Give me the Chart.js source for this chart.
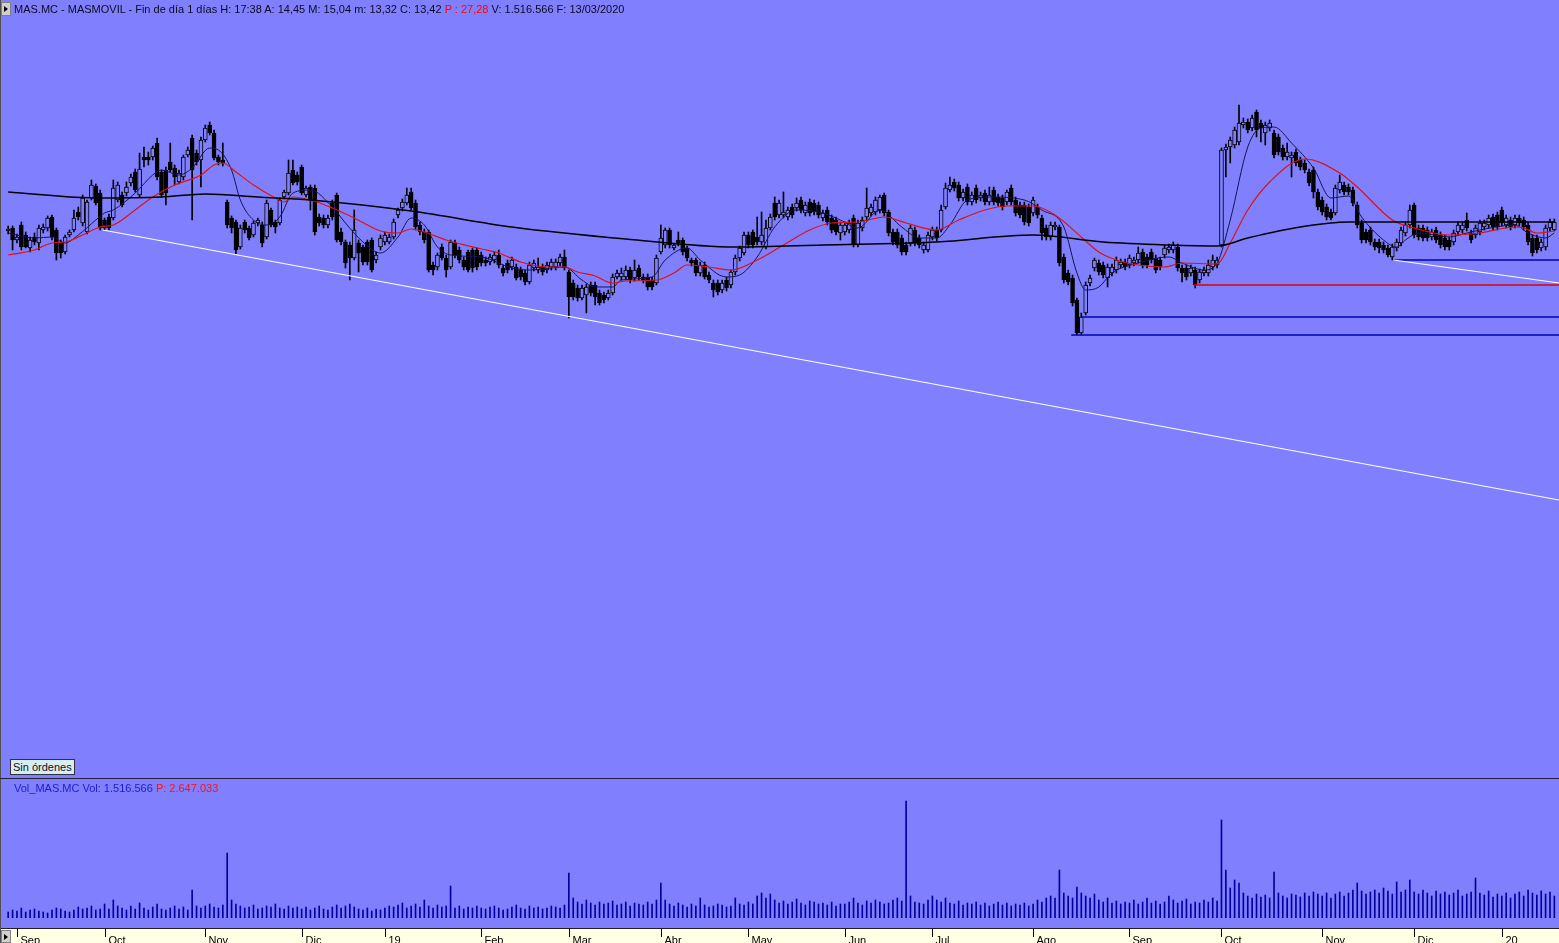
<!DOCTYPE html>
<html><head><meta charset="utf-8">
<script src="https://cdn.jsdelivr.net/npm/chart.js@4.4.1/dist/chart.umd.min.js"></script>
<style>
html,body{margin:0;padding:0;background:#8080FF;width:1559px;height:943px;overflow:hidden;font-family:"Liberation Sans",Arial,sans-serif;}
#wrap{position:relative;width:1559px;height:943px;}
canvas{position:absolute;left:0;}
.t{position:absolute;font-size:11px;white-space:pre;line-height:12px;color:#0a0a20;}
.btn{position:absolute;width:8px;height:12px;background:#d0d0d0;border:1px solid #808080;}
.btn:after{content:"";position:absolute;left:2px;top:3px;border-left:4px solid #000;border-top:3px solid transparent;border-bottom:3px solid transparent;}
</style></head><body><div id="wrap">
<canvas id="main" width="1559" height="761" style="top:18px"></canvas>
<canvas id="vol" width="1559" height="163" style="top:780px"></canvas>
<div style="position:absolute;left:0;top:0;width:1px;height:943px;background:#505050"></div>
<div style="position:absolute;left:0;top:778px;width:1559px;height:1px;background:#20203a"></div>
<div class="btn" style="left:1px;top:2px"></div>
<div class="t" style="left:14px;top:3px">MAS.MC - MASMOVIL - Fin de día 1 días H: 17:38 A: 14,45 M: 15,04 m: 13,32 C: 13,42 <span style="color:#ff0000">P : 27,28</span> V: 1.516.566 F: 13/03/2020</div>
<div class="t" style="left:10px;top:759px;width:61px;height:14px;background:#d8eeee;border:1px solid #303040;line-height:14px;padding-left:2px;color:#10102a">Sin órdenes</div>
<div class="t" style="left:14px;top:782px;color:#1c1cc8">Vol_MAS.MC Vol: 1.516.566 <span style="color:#ff1010">P: 2.647.033</span></div>
<div class="btn" style="left:1px;top:930px;height:11px"></div>
</div>
<script>
// ---- month axis ----
const monthLabels = ['Sep','Oct','Nov','Dic','19','Feb','Mar','Abr','May','Jun','Jul','Ago','Sep','Oct','Nov','Dic','20'];
const monthStart  = [2,22,45,67,86,108,128,149,169,191,211,234,256,277,300,321,341];

// ---- daily candles (EUR) ----
const open = [
20.38,20.44,20.20,20.50,20.30,20.04,20.26,20.14,20.40,20.44,
20.66,20.40,20.16,19.96,20.30,20.40,20.76,20.54,20.36,21.04,
21.28,21.14,20.60,20.66,20.64,21.00,21.10,21.14,21.34,21.56,
21.10,21.86,21.86,21.86,22.14,21.56,21.60,21.76,21.64,21.36,
21.46,21.90,22.24,21.94,21.80,22.20,22.50,22.34,21.86,21.80,
20.96,20.64,20.56,20.06,20.56,20.44,20.30,20.54,20.50,20.26,
20.80,20.56,20.54,21.06,21.14,21.60,21.50,21.66,21.10,21.26,
21.24,20.66,20.64,20.50,20.94,21.10,20.36,20.16,20.10,19.84,
20.14,20.06,20.16,20.20,19.80,20.06,20.16,20.16,20.26,20.70,
20.84,20.94,21.16,20.94,20.50,20.36,20.36,19.70,19.66,20.06,
19.84,19.66,20.14,20.00,19.80,19.96,20.00,20.00,19.90,19.80,
19.76,19.80,19.90,19.64,19.74,19.66,19.66,19.60,19.54,19.36,
19.64,19.60,19.66,19.60,19.66,19.66,19.74,19.86,19.56,19.34,
19.24,19.04,19.10,19.30,19.30,19.14,19.10,19.04,19.14,19.46,
19.46,19.46,19.60,19.44,19.64,19.46,19.46,19.40,19.34,19.96,
20.10,20.40,20.04,20.20,20.20,20.04,19.80,19.80,19.54,19.70,
19.50,19.34,19.34,19.20,19.40,19.30,19.56,19.84,19.94,20.30,
20.36,20.26,20.16,20.06,20.44,20.94,20.70,20.70,20.66,20.86,
20.84,21.00,20.74,20.96,20.94,20.90,20.64,20.80,20.64,20.60,
20.34,20.36,20.40,20.64,20.10,20.44,20.66,20.74,20.76,20.80,
21.10,20.76,20.36,20.36,20.24,20.10,20.14,20.40,20.24,20.00,
20.00,20.26,20.40,20.40,20.86,21.20,21.36,21.30,21.04,21.26,
20.96,21.24,21.04,21.14,20.96,21.20,21.06,21.04,20.96,21.24,
21.00,20.90,20.90,20.86,20.74,20.86,20.64,20.44,20.26,20.46,
20.46,19.86,19.54,19.44,19.00,18.34,18.74,19.34,19.64,19.74,
19.70,19.44,19.54,19.60,19.70,19.76,19.70,19.74,19.80,19.96,
19.86,19.96,19.84,19.80,19.90,20.00,20.00,20.06,19.64,19.64,
19.54,19.60,19.40,19.54,19.54,19.66,19.70,20.10,22.00,22.06,
22.10,22.16,22.50,22.56,22.44,22.76,22.54,22.34,22.44,22.34,
22.26,22.04,21.86,21.84,21.96,21.80,21.74,21.56,21.60,21.16,
21.00,20.86,20.76,20.74,21.20,21.30,21.26,21.20,20.90,20.54,
20.36,20.40,20.16,20.16,20.10,20.04,19.86,20.04,20.14,20.34,
20.50,20.90,20.44,20.44,20.40,20.26,20.40,20.30,20.24,20.20,
20.16,20.36,20.40,20.60,20.34,20.30,20.36,20.46,20.50,20.66,
20.70,20.80,20.50,20.60,20.50,20.64,20.60,20.50,20.24,20.24,
20.04,20.06,20.44,20.40];
const high = [
20.48,20.48,20.32,20.56,20.36,20.26,20.34,20.50,20.52,20.68,
20.70,20.44,20.20,20.30,20.40,20.80,20.86,21.10,21.00,21.40,
21.32,21.20,20.64,20.72,21.40,21.36,21.16,21.36,21.52,21.62,
21.94,22.06,21.96,22.08,22.24,21.60,21.66,22.14,21.70,21.60,
21.90,22.06,22.30,22.00,22.26,22.50,22.56,22.40,21.90,22.14,
21.00,20.68,20.60,20.50,20.60,20.48,20.58,20.64,20.56,21.00,
20.84,20.60,21.04,21.20,21.80,21.80,21.56,21.70,21.28,21.30,
21.30,20.72,20.70,20.70,21.00,21.14,20.44,20.20,20.16,20.80,
20.20,20.10,20.20,20.24,19.96,20.30,20.36,20.32,20.62,20.84,
21.02,21.24,21.24,21.00,20.56,20.42,20.40,19.76,19.94,20.12,
19.90,20.20,20.20,20.06,19.86,20.00,20.04,20.04,19.96,19.86,
19.92,19.96,20.00,19.70,19.80,19.86,19.72,19.66,19.60,19.76,
19.80,19.84,19.72,19.76,19.82,19.82,19.92,20.00,19.60,19.40,
19.30,19.30,19.32,19.36,19.36,19.20,19.16,19.20,19.52,19.60,
19.64,19.68,19.66,19.80,19.70,19.52,19.52,19.46,19.90,20.50,
20.44,20.44,20.14,20.36,20.24,20.08,19.84,19.84,19.76,19.76,
19.56,19.40,19.40,19.40,19.46,19.60,19.90,20.08,20.36,20.36,
20.40,20.66,20.76,20.60,20.72,21.06,21.00,21.16,20.86,20.92,
21.04,21.06,20.96,21.02,21.00,20.96,20.80,20.86,20.70,20.66,
20.56,20.56,20.60,20.70,20.60,20.66,21.24,20.92,21.06,21.10,
21.14,20.80,20.42,20.42,20.30,20.16,20.50,20.46,20.30,20.16,
20.36,20.46,20.46,20.90,21.34,21.46,21.42,21.36,21.22,21.32,
21.16,21.30,21.16,21.20,21.26,21.26,21.12,21.10,21.20,21.30,
21.06,20.96,20.96,20.92,21.06,20.92,20.70,20.50,20.56,20.56,
20.50,19.92,19.60,19.50,19.04,18.74,19.36,19.50,19.84,19.80,
19.76,19.72,19.72,19.86,19.82,19.82,19.90,19.86,20.06,20.02,
19.92,20.02,19.90,19.86,20.10,20.12,20.16,20.12,19.70,19.70,
19.70,19.66,19.62,19.66,19.80,19.90,19.86,22.04,22.12,22.26,
22.46,22.90,22.64,22.62,22.70,22.80,22.60,22.56,22.60,22.40,
22.32,22.10,22.14,21.96,22.02,21.86,21.80,21.62,21.66,21.22,
21.06,20.92,20.82,21.30,21.50,21.36,21.32,21.26,20.96,20.60,
20.42,20.46,20.22,20.22,20.16,20.10,20.12,20.22,20.46,20.56,
20.90,20.94,20.50,20.50,20.46,20.42,20.46,20.36,20.30,20.26,
20.40,20.56,20.56,20.74,20.40,20.50,20.60,20.60,20.70,20.72,
20.76,20.86,20.70,20.66,20.70,20.70,20.66,20.56,20.30,20.30,
20.22,20.50,20.62,20.62];
const low = [
20.32,20.00,20.14,20.00,20.04,19.96,20.10,20.00,20.34,20.38,
20.20,19.80,19.84,19.92,20.26,20.36,20.60,20.48,20.32,21.00,
20.90,20.40,20.40,20.40,20.60,20.96,20.86,21.08,21.28,21.16,
21.06,21.66,21.70,21.80,21.40,21.06,20.90,21.56,21.30,21.32,
21.40,21.86,20.60,21.70,21.26,22.16,22.30,21.80,21.70,21.68,
20.44,20.34,19.92,20.02,20.34,20.20,20.26,20.48,20.06,20.22,
20.46,20.34,20.50,21.02,21.10,21.30,21.30,21.10,21.06,20.80,
20.30,20.48,20.44,20.44,20.60,20.16,20.10,19.64,19.40,19.80,
19.56,19.70,19.70,19.56,19.74,20.00,20.10,20.12,20.22,20.64,
20.78,20.90,20.80,20.40,20.30,20.14,19.56,19.50,19.60,19.80,
19.46,19.62,19.84,19.74,19.60,19.56,19.56,19.60,19.68,19.68,
19.70,19.74,19.64,19.48,19.54,19.60,19.40,19.40,19.30,19.32,
19.58,19.54,19.50,19.54,19.60,19.60,19.68,19.60,18.64,19.00,
18.98,19.00,18.74,19.08,18.90,18.90,18.94,19.00,19.10,19.42,
19.40,19.40,19.34,19.38,19.40,19.34,19.20,19.20,19.30,19.92,
20.04,20.04,20.00,20.08,19.90,19.78,19.68,19.48,19.48,19.42,
19.34,19.06,19.10,19.14,19.18,19.24,19.50,19.78,19.90,20.04,
20.04,20.10,20.10,20.02,20.40,20.60,20.64,20.64,20.60,20.64,
20.78,20.74,20.68,20.68,20.70,20.64,20.58,20.50,20.34,20.30,
20.20,20.30,20.34,20.06,20.06,20.38,20.60,20.68,20.70,20.74,
20.68,20.28,20.10,20.04,19.90,19.90,20.08,20.08,20.04,19.94,
19.96,20.20,20.18,20.36,20.82,21.16,21.18,20.98,20.98,20.90,
20.90,20.94,20.98,20.90,20.90,20.90,20.88,20.80,20.90,20.90,
20.68,20.64,20.50,20.48,20.68,20.64,20.20,20.20,20.20,20.40,
19.68,19.34,19.30,18.88,18.30,18.30,18.70,19.28,19.58,19.50,
19.44,19.26,19.48,19.54,19.64,19.60,19.64,19.68,19.74,19.64,
19.64,19.74,19.54,19.60,19.84,19.94,19.94,19.58,19.36,19.40,
19.48,19.24,19.34,19.48,19.48,19.60,19.64,20.06,21.46,21.74,
22.04,22.10,22.44,22.34,22.38,22.26,22.16,22.10,22.38,21.84,
21.90,21.80,21.80,21.46,21.68,21.60,21.54,21.28,21.04,20.80,
20.70,20.60,20.60,20.70,21.14,21.10,21.10,20.88,20.44,20.14,
20.14,20.10,20.00,19.94,19.94,19.86,19.80,19.98,20.08,20.28,
20.44,20.24,20.20,20.18,20.18,20.20,20.14,20.04,20.00,20.00,
20.10,20.30,20.34,20.38,20.14,20.24,20.30,20.40,20.44,20.40,
20.40,20.48,20.44,20.40,20.44,20.48,20.40,20.10,19.88,19.94,
19.98,20.00,20.38,20.38];
const close = [
20.42,20.20,20.26,20.06,20.06,20.20,20.16,20.44,20.46,20.64,
20.26,19.94,19.94,20.26,20.36,20.64,20.66,21.04,20.96,21.30,
20.94,20.44,20.44,20.44,21.24,21.30,20.90,21.26,21.46,21.20,
21.62,21.80,21.80,22.04,21.46,21.10,21.14,21.60,21.46,21.54,
21.86,22.00,21.60,21.76,22.20,22.44,22.34,21.84,21.76,21.74,
20.50,20.44,20.00,20.44,20.40,20.24,20.54,20.60,20.14,20.94,
20.50,20.46,21.00,21.16,21.54,21.34,21.36,21.14,21.24,21.00,
20.36,20.54,20.50,20.64,20.66,20.20,20.16,19.74,19.84,20.40,
19.94,19.76,19.76,19.60,19.90,20.24,20.30,20.26,20.56,20.80,
20.96,21.10,20.84,20.46,20.36,20.20,19.60,19.60,19.90,19.84,
19.60,20.16,19.90,19.80,19.66,19.60,19.64,19.66,19.74,19.74,
19.86,19.90,19.70,19.54,19.60,19.80,19.44,19.46,19.36,19.70,
19.74,19.66,19.56,19.70,19.76,19.76,19.86,19.64,19.06,19.06,
19.04,19.24,19.26,19.14,19.06,18.94,19.00,19.14,19.46,19.54,
19.54,19.60,19.40,19.60,19.46,19.40,19.26,19.26,19.84,20.24,
20.40,20.10,20.10,20.14,19.96,19.84,19.74,19.54,19.70,19.46,
19.40,19.20,19.16,19.34,19.24,19.56,19.84,20.04,20.30,20.10,
20.10,20.16,20.30,20.44,20.66,20.66,20.94,20.76,20.80,20.70,
20.94,20.80,20.90,20.74,20.76,20.70,20.74,20.56,20.40,20.36,
20.50,20.50,20.54,20.10,20.54,20.60,20.84,20.86,21.00,21.06,
20.74,20.34,20.16,20.10,19.96,19.96,20.44,20.14,20.10,20.10,
20.30,20.40,20.24,20.80,21.24,21.30,21.24,21.04,21.16,20.96,
21.10,21.00,21.10,20.96,21.10,20.96,20.94,20.86,21.16,20.96,
20.74,20.70,20.56,20.54,21.00,20.70,20.34,20.26,20.50,20.50,
19.74,19.40,19.36,18.94,18.34,18.66,19.30,19.44,19.80,19.56,
19.50,19.66,19.66,19.80,19.76,19.66,19.84,19.80,19.94,19.70,
19.70,19.80,19.60,19.66,20.04,20.06,20.10,19.64,19.54,19.46,
19.64,19.30,19.56,19.60,19.70,19.80,19.80,22.00,22.06,22.20,
22.40,22.54,22.56,22.40,22.64,22.40,22.44,22.50,22.54,21.90,
21.96,21.86,21.96,21.90,21.74,21.66,21.60,21.34,21.16,20.86,
20.76,20.66,20.64,21.24,21.36,21.16,21.16,20.94,20.50,20.20,
20.20,20.16,20.06,20.04,20.00,19.90,20.06,20.16,20.40,20.50,
20.80,20.30,20.26,20.24,20.24,20.36,20.20,20.10,20.06,20.06,
20.34,20.50,20.50,20.44,20.20,20.44,20.54,20.54,20.64,20.46,
20.46,20.54,20.64,20.46,20.64,20.54,20.46,20.16,19.94,20.00,
20.16,20.44,20.56,20.56];

// ---- daily volume (thousands of shares) ----
const volumeK = [
180,240,210,300,180,240,270,210,180,150,240,300,270,210,180,240,330,270,300,360,240,270,
420,270,540,360,300,240,360,270,450,300,240,330,420,270,240,300,360,270,330,240,840,360,300,
360,420,330,300,390,1950,540,420,360,300,330,390,270,300,360,330,420,300,270,360,300,330,
270,330,240,300,360,270,240,330,390,300,360,420,330,270,240,300,210,270,240,
300,360,330,390,450,300,360,420,330,540,360,300,390,330,360,960,300,360,270,330,300,360,
300,270,330,360,300,240,270,330,390,300,270,360,300,330,270,300,360,330,300,390,
1350,600,480,420,540,450,390,480,420,450,510,390,420,480,360,450,420,390,480,420,540,
1050,540,420,360,450,390,330,420,360,600,390,330,360,420,390,330,360,600,420,390,
480,420,660,750,600,720,540,450,510,420,480,570,450,390,510,480,420,450,390,480,360,420,
420,480,600,450,390,510,450,540,480,420,450,540,600,510,3510,660,480,450,420,540,
660,540,480,600,450,420,510,390,450,420,480,390,450,360,420,480,390,450,360,420,390,450,360,
420,540,480,600,660,600,1440,750,660,600,930,750,660,600,720,540,480,600,450,510,420,480,
450,540,420,480,600,450,510,420,480,660,540,450,510,570,420,480,450,540,480,600,510,
2940,1440,900,1140,1050,750,660,600,720,630,690,600,1380,750,660,600,720,690,630,750,660,780,720,
660,750,600,720,780,660,750,840,1050,810,720,780,840,750,900,810,720,1080,780,840,1140,
780,720,840,750,660,810,720,780,690,750,840,660,720,780,1200,750,690,810,630,720,
660,750,600,720,780,660,840,750,690,810,720,780,660];

// ---- moving averages (candle index, price) ----
const shortMaIdx = [0,6,10,13,16,20,22,24,29,33,35,39,42,46,48,51,53,56,59,62,65,69,74,77,81,85,89,92,95,98,101,108,115,119,127,131,134,138,140,147,150,155,158,164,167,171,175,180,186,190,194,199,204,208,212,215,219,224,232,236,241,244,246,249,252,258,265,268,273,276,279,283,286,289,293,298,302,304,306,309,314,317,319,322,329,333,336,344,347,351,353];
const shortMaVal = [20.34,20.24,20.26,20.14,20.30,20.60,20.74,20.80,21.14,21.50,21.60,21.50,21.64,22.04,22.00,21.60,21.00,20.60,20.50,20.66,21.14,21.20,20.86,20.54,20.16,19.94,20.26,20.64,20.50,20.06,19.90,19.86,19.64,19.60,19.66,19.40,19.26,19.26,19.40,19.46,19.80,20.04,19.80,19.46,19.50,19.86,20.46,20.80,20.74,20.60,20.44,20.80,20.46,20.24,20.24,20.50,21.00,21.06,21.00,20.80,20.46,19.54,19.20,19.26,19.54,19.74,19.86,19.74,19.60,19.74,20.60,22.06,22.44,22.46,22.14,21.64,21.04,21.06,21.08,20.66,20.20,20.06,20.20,20.34,20.26,20.34,20.40,20.50,20.34,20.24,20.34];
const midMaIdx = [0,6,10,13,17,21,24,29,33,38,44,47,49,52,56,61,63,65,69,74,79,85,89,92,95,100,108,112,117,123,127,130,134,138,141,148,152,155,160,165,171,177,183,188,194,200,205,212,217,223,228,234,239,245,249,253,258,264,268,276,279,283,288,296,304,308,316,321,329,336,344,346,349,353];
const midMaVal = [19.90,20.00,20.14,20.16,20.30,20.46,20.50,20.80,21.06,21.30,21.50,21.70,21.74,21.56,21.30,21.04,20.96,21.06,21.00,20.84,20.64,20.38,20.34,20.42,20.36,20.20,20.02,19.94,19.76,19.66,19.66,19.56,19.48,19.34,19.38,19.40,19.54,19.70,19.66,19.60,19.80,20.10,20.40,20.54,20.56,20.66,20.54,20.40,20.60,20.80,20.88,20.88,20.70,20.26,19.96,19.80,19.70,19.66,19.74,19.72,20.14,20.80,21.36,21.82,21.54,21.26,20.60,20.44,20.30,20.34,20.46,20.44,20.34,20.38];
const longMaIdx = [0,21,35,45,57,69,92,115,141,166,186,212,234,250,265,276,283,295,306,353];
const longMaVal = [21.16,21.04,21.06,21.12,21.06,21.00,20.78,20.46,20.22,20.06,20.10,20.16,20.30,20.16,20.10,20.08,20.24,20.46,20.56,20.56];

// ---- drawn trend lines and levels ----
const trendMain = [[21.6,20.40],[354.06,15.00]];
const trendShort = [[316.2,19.80],[354.06,19.34]];
const levelStart = [316.2,270.7,245.2,242.7];
const levelPrice = [19.80,19.30,18.66,18.30];

const BG = '#8080FF';
const X_MIN = -1.87, X_MAX = 354.06;
const levelColors = ['#0000b4','#e00000','#0000b4','#0000b4'];

const toPts = (ix, v) => ix.map((x,k)=>({x, y:v[k]}));
const lineDs = (data, color, w, tension) => ({type:'line', data, borderColor:color, borderWidth:w, pointRadius:0, tension:tension||0, cubicInterpolationMode: tension? 'monotone':'default', fill:false, order:0});

const datasets = [
  lineDs(trendMain.map(p=>({x:p[0],y:p[1]})), '#ffffff', 1.2),
  lineDs(trendShort.map(p=>({x:p[0],y:p[1]})), '#ffffff', 1.2),
  ...levelStart.map((s,k)=>lineDs([{x:s,y:levelPrice[k]},{x:X_MAX,y:levelPrice[k]}], levelColors[k], 1.3)),
  lineDs(toPts(longMaIdx,longMaVal), '#000000', 1.5, 0.4),
  lineDs(toPts(midMaIdx,midMaVal), '#e01010', 1.2, 0.4),
  lineDs(toPts(shortMaIdx,shortMaVal), '#141450', 1, 0.4),
  {type:'bar', data: open.map((o,i)=>({x:i, y:[o, close[i]]})), barThickness:4, grouped:false,
   backgroundColor: c => { const i=c.dataIndex; return close[i] < open[i] ? '#000000' : BG; },
   borderColor:'#000000', borderWidth:1, borderSkipped:false, order:1},
  {type:'bar', data: low.map((l,i)=>({x:i, y:[l, high[i]]})), barThickness:1, grouped:false,
   backgroundColor:'#000000', borderWidth:0, order:2}
];

new Chart(document.getElementById('main'), {
  data:{datasets},
  options:{responsive:false, animation:false, events:[],
    layout:{padding:0},
    plugins:{legend:{display:false}, tooltip:{enabled:false}},
    scales:{
      x:{type:'linear', min:X_MIN, max:X_MAX, offset:false, display:false},
      y:{type:'linear', min:9.42, max:24.64, display:false}
    }}
});

const axisPlugin = {
  id:'monthAxis',
  afterDraw(chart){
    const ctx = chart.ctx, xs = chart.scales.x;
    ctx.save();
    ctx.fillStyle = '#FFFFE4'; ctx.fillRect(0,149,chart.width,14);
    ctx.fillStyle = '#202020'; ctx.fillRect(0,148,chart.width,1);
    ctx.font = '11px "Liberation Sans", Arial, sans-serif';
    ctx.textBaseline = 'top';
    ctx.strokeStyle = '#000'; ctx.lineWidth = 1;
    monthStart.forEach((idx,k)=>{
      const px = Math.round(xs.getPixelForValue(idx)) + 0.5;
      ctx.beginPath(); ctx.moveTo(px,149); ctx.lineTo(px,157); ctx.stroke();
      ctx.fillStyle = '#000';
      ctx.fillText(monthLabels[k], px+3, 155);
    });
    ctx.restore();
  }
};

new Chart(document.getElementById('vol'), {
  type:'bar',
  data:{datasets:[{data: volumeK.map((v,i)=>({x:i,y:v})), barThickness:1, backgroundColor:'#0000a0', borderWidth:0}]},
  options:{responsive:false, animation:false, events:[],
    layout:{padding:{top:15,bottom:25,left:0,right:0}},
    plugins:{legend:{display:false}, tooltip:{enabled:false}},
    scales:{
      x:{type:'linear', min:X_MIN, max:X_MAX, offset:false, display:false},
      y:{min:0, max:3690, display:false}
    }},
  plugins:[axisPlugin]
});
</script>
</body></html>
